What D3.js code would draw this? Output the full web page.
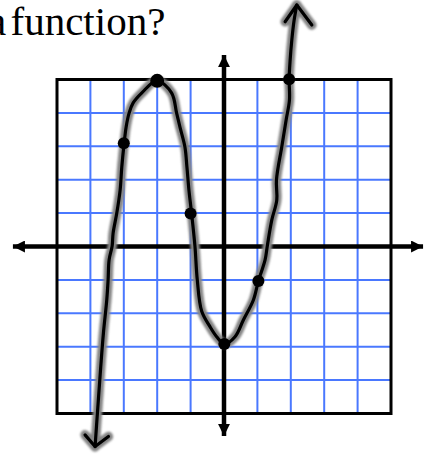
<!DOCTYPE html>
<html>
<head>
<meta charset="utf-8">
<script src="https://cdn.jsdelivr.net/npm/d3@7"></script>
<style>
  html, body { margin: 0; padding: 0; background: #fff; overflow: hidden; }
  svg { display: block; }
</style>
</head>
<body>
<script>
// Grid extent in units (one cell = one unit)
const gridTicks = [-5, -4, -3, -2, -1, 0, 1, 2, 3, 4, 5];

// Hand-drawn curve, traced point by point (x, y in grid units)
const curveX = [-3.86, -3.79, -3.69, -3.61, -3.51, -3.47, -3.44, -3.35, -3.32, -3.21, -3.11, -3.06,
  -2.99, -2.93, -2.84, -2.72, -2.46, -2.01, -1.57, -1.42, -1.32, -1.17, -1.11, -1.05, -0.97,
  -0.87, -0.80, -0.67, -0.42, -0.22, 0.01, 0.33, 0.58, 0.88, 1.03, 1.23, 1.30, 1.43, 1.58, 1.57,
  1.73, 1.86, 1.96, 1.95, 1.98, 2.03, 2.10, 2.18];
const curveY = [-5.99, -4.99, -3.60, -2.59, -1.60, -1.00, -0.40, 0.01, 0.40, 1.00, 1.69, 2.38,
  3.09, 3.58, 4.00, 4.30, 4.60, 4.96, 4.60, 4.00, 3.58, 2.98, 2.38, 1.69, 0.99,
  0.01, -1.00, -1.93, -2.40, -2.70, -2.92, -2.70, -2.20, -1.60, -1.03, -0.40, 0.04, 0.79, 1.39, 1.99,
  2.99, 3.79, 4.39, 5.01, 5.58, 6.18, 6.78, 7.23];

// Arrowheads at both ends of the curve (wing, tip, wing)
const headTopX = [1.83, 2.18, 2.63];
const headTopY = [6.73, 7.23, 6.63];
const headBottomX = [-4.16, -3.86, -3.46];
const headBottomY = [-5.64, -5.99, -5.69];

// Marked points on the curve
const dotX = [-3, -2, -1, 0.01, 1.03, 1.95];
const dotY = [3.09, 4.96, 0.99, -2.92, -1.03, 5.01];

// Axis extents (arrow tip to arrow tip)
const axisXRange = [-6.32, 5.96];
const axisYRange = [-5.67, 5.73];

const W = 429, H = 459;
const svg = d3.select("body").append("svg").attr("width", W).attr("height", H);

const x = d3.scaleLinear().domain([-5, 5]).range([57, 391]);
const y = d3.scaleLinear().domain([-5, 5]).range([413.5, 79.5]);

// Question text, running in from the left edge
const title = svg.append("text")
  .attr("y", 35)
  .attr("font-family", "'Liberation Serif', 'Times New Roman', serif")
  .attr("font-size", 41)
  .attr("fill", "#000");
title.append("tspan").attr("x", -12).text("a");
title.append("tspan").attr("x", 10.5).text("function?");

// Blue grid
const grid = svg.append("g");
grid.selectAll("line.v").data(gridTicks.slice(1, -1)).join("line")
  .attr("x1", d => x(d)).attr("x2", d => x(d))
  .attr("y1", y(5)).attr("y2", y(-5))
  .attr("stroke", "#4a78ff").attr("stroke-width", 2);
grid.selectAll("line.h").data(gridTicks.slice(1, -1)).join("line")
  .attr("y1", d => y(d)).attr("y2", d => y(d))
  .attr("x1", x(-5)).attr("x2", x(5))
  .attr("stroke", "#4a78ff").attr("stroke-width", 2);

// Black border
svg.append("rect")
  .attr("x", x(-5)).attr("y", y(5))
  .attr("width", x(5) - x(-5)).attr("height", y(-5) - y(5))
  .attr("fill", "none").attr("stroke", "#000").attr("stroke-width", 3);

// Axes with arrowheads
const defs = svg.append("defs");
defs.append("marker")
  .attr("id", "tri")
  .attr("viewBox", "0 0 12 12")
  .attr("refX", 12).attr("refY", 6)
  .attr("markerWidth", 12).attr("markerHeight", 12)
  .attr("markerUnits", "userSpaceOnUse")
  .attr("orient", "auto-start-reverse")
  .append("path").attr("d", "M0,0 L12,6 L0,12 Z").attr("fill", "#000");

defs.append("filter").attr("id", "soft")
  .attr("x", "-10%").attr("y", "-10%").attr("width", "120%").attr("height", "120%")
  .append("feGaussianBlur").attr("stdDeviation", 1.3);

svg.append("line")
  .attr("x1", x(axisXRange[0])).attr("x2", x(axisXRange[1]))
  .attr("y1", y(0)).attr("y2", y(0))
  .attr("stroke", "#000").attr("stroke-width", 4.5)
  .attr("marker-start", "url(#tri)").attr("marker-end", "url(#tri)");
svg.append("line")
  .attr("y1", y(axisYRange[0])).attr("y2", y(axisYRange[1]))
  .attr("x1", x(0)).attr("x2", x(0))
  .attr("stroke", "#000").attr("stroke-width", 4.5)
  .attr("marker-start", "url(#tri)").attr("marker-end", "url(#tri)");

// Curve with gray halo
const pts = curveX.map((d, i) => [d, curveY[i]]);
const line = d3.line().x(d => x(d[0])).y(d => y(d[1])).curve(d3.curveCatmullRom.alpha(0.5));
const straight = d3.line().x(d => x(d[0])).y(d => y(d[1]));
const heads = [
  headTopX.map((d, i) => [d, headTopY[i]]),
  headBottomX.map((d, i) => [d, headBottomY[i]])
];

const halo = svg.append("g").attr("filter", "url(#soft)")
  .attr("stroke", "#858585").attr("fill", "none")
  .attr("stroke-width", 9.5).attr("stroke-linecap", "round").attr("stroke-linejoin", "round");
halo.append("path").attr("d", line(pts));
heads.forEach(h => halo.append("path").attr("d", straight(h)));

const ink = svg.append("g")
  .attr("stroke", "#000").attr("fill", "none")
  .attr("stroke-width", 3.2).attr("stroke-linecap", "round").attr("stroke-linejoin", "round");
ink.append("path").attr("d", line(pts));
heads.forEach(h => ink.append("path").attr("d", straight(h)));

// Dots
svg.selectAll("circle.dot").data(dotX.map((d, i) => [d, dotY[i]])).join("circle")
  .attr("cx", d => x(d[0])).attr("cy", d => y(d[1]))
  .attr("r", (d, i) => i === 1 ? 7 : 6)
  .attr("fill", "#000");
</script>
</body>
</html>
